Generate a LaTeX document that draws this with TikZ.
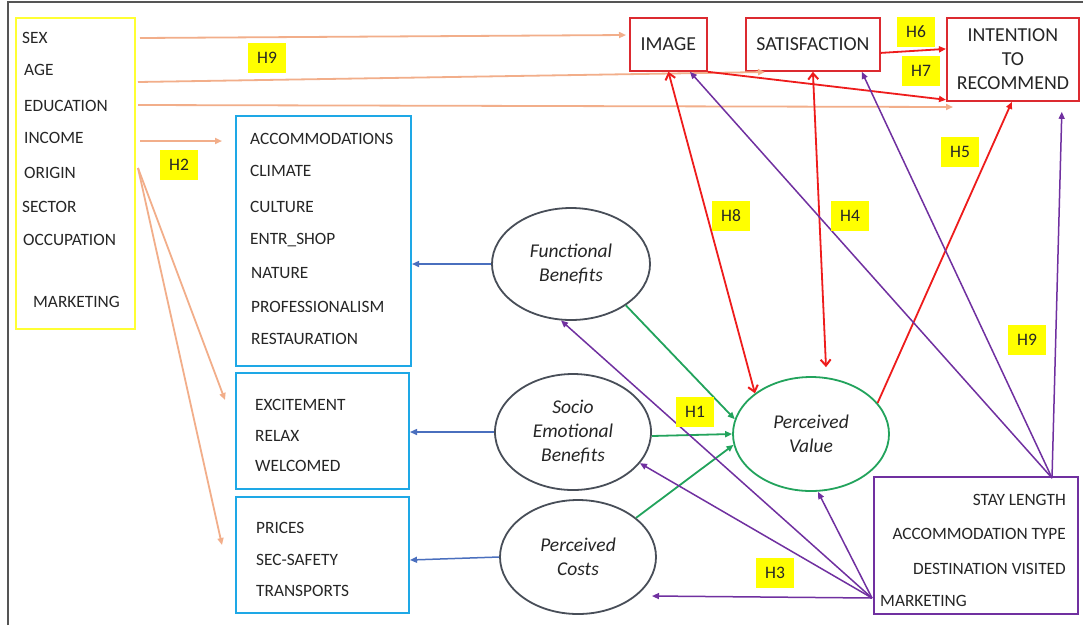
\documentclass[tikz,border=0pt]{standalone}
\usepackage{fontspec}
\setmainfont{Carlito}
\usetikzlibrary{arrows.meta,shapes.geometric}
\definecolor{framegray}{HTML}{555555}
\definecolor{demoyellow}{HTML}{FFFF33}
\definecolor{hlyellow}{HTML}{FFFF00}
\definecolor{boxcyan}{HTML}{1EA8E6}
\definecolor{boxred}{HTML}{DC2A30}
\definecolor{arrred}{HTML}{EE1C1C}
\definecolor{purp}{HTML}{7030A0}
\definecolor{salmon}{HTML}{F2AE8A}
\definecolor{arrblue}{HTML}{4A6FBE}
\definecolor{ellgray}{HTML}{484E58}
\definecolor{grn}{HTML}{22A35C}
\definecolor{txt}{HTML}{262626}
\begin{document}
\begin{tikzpicture}[x=1pt,y=-1pt,
  every node/.style={text=txt},
  lbl/.style={font=\fontsize{17.3}{20}\selectfont, inner sep=0pt, text depth=0pt, anchor=west},
  rlbl/.style={lbl, anchor=east},
  boxr/.style={draw=boxred, line width=1.8pt, inner sep=0pt, anchor=north west, align=center, font=\fontsize{19.8}{24}\selectfont},
  boxc/.style={draw=boxcyan, line width=2pt, inner sep=0pt, anchor=north west},
  ell/.style={ellipse, draw=ellgray, line width=1.8pt, inner sep=0pt, align=center, font=\fontsize{19.5}{24}\selectfont\itshape},
  hyp/.style={fill=hlyellow, inner sep=0pt, minimum width=38pt, minimum height=30pt, font=\fontsize{17.5}{18}\selectfont},
  tipf/.style={-{Triangle[length=7pt,width=6pt]}},
  oarr/.style={draw=salmon, line width=1.8pt, tipf},
  barr/.style={draw=arrblue, line width=1.5pt, tipf},
  garr/.style={draw=grn, line width=1.8pt, tipf},
  rarr/.style={draw=arrred, line width=1.8pt, -{Triangle[length=7pt,width=6pt]}},
  rbi/.style={draw=arrred, line width=1.8pt, {Straight Barb[length=6pt,width=10pt,line width=2pt]}-{Straight Barb[length=6pt,width=10pt,line width=2pt]}},
  parr/.style={draw=purp, line width=1.5pt, tipf}
]
\useasboundingbox (0,0) rectangle (1083,625);
\fill[white] (0,0) rectangle (1083,625);
\draw[framegray, line width=2pt] (8,625) -- (8,2) -- (1083,2);

% demographic box
\node[draw=demoyellow, line width=2pt, inner sep=0pt, anchor=north west, minimum width=119pt, minimum height=311pt] (demo) at (15,17) {};
\node[lbl] (sex) at (22,38) {SEX};
\node[lbl] (age) at (24,70) {AGE};
\node[lbl] (edu) at (24,106) {EDUCATION};
\node[lbl] (inc) at (24,138) {INCOME};
\node[lbl] (ori) at (24,173) {ORIGIN};
\node[lbl] (sec) at (22,207) {SECTOR};
\node[lbl] (occ) at (23,240) {OCCUPATION};
\node[lbl] (mkt) at (33,302) {MARKETING};

% cyan boxes
\node[boxc, minimum width=175pt, minimum height=250pt] (fbx) at (235,115) {};
\node[lbl] (acc) at (250,139) {ACCOMMODATIONS};
\node[lbl] (cli) at (250,171) {CLIMATE};
\node[lbl] (cul) at (250,207) {CULTURE};
\node[lbl] (ent) at (250,239) {ENTR\_SHOP};
\node[lbl] (nat) at (251,273) {NATURE};
\node[lbl] (pro) at (251,307) {PROFESSIONALISM};
\node[lbl] (res) at (251,339) {RESTAURATION};

\node[boxc, minimum width=173pt, minimum height=116pt] (sebx) at (235,372) {};
\node[lbl] (exc) at (255,405) {EXCITEMENT};
\node[lbl] (rel) at (255,436) {RELAX};
\node[lbl] (wel) at (255,466) {WELCOMED};

\node[boxc, minimum width=173pt, minimum height=116pt] (pcx) at (235,496) {};
\node[lbl] (pri) at (256,528) {PRICES};
\node[lbl] (saf) at (256,560) {SEC-SAFETY};
\node[lbl] (tra) at (256,591) {TRANSPORTS};

% red boxes
\node[boxr, minimum width=77pt, minimum height=53pt] (img) at (629,17) {IMAGE};
\node[boxr, minimum width=134pt, minimum height=53pt] (sat) at (745,17) {SATISFACTION};
\node[boxr, minimum width=132pt, minimum height=83pt] (intn) at (946,17) {INTENTION\\TO\\RECOMMEND};

% purple box
\node[draw=purp, line width=2.2pt, inner sep=0pt, anchor=north west, minimum width=204pt, minimum height=137pt] (trip) at (873,476) {};
\node[rlbl] (stay) at (1066,500) {STAY LENGTH};
\node[rlbl] (acct) at (1066,534) {ACCOMMODATION TYPE};
\node[rlbl] (dest) at (1066,569) {DESTINATION VISITED};
\node[lbl] (mkt2) at (880,601) {MARKETING};

% ellipses
\node[ell, minimum width=158pt, minimum height=112pt] (fb) at (571,264) {Functional\\Benefits};
\node[ell, minimum width=156pt, minimum height=116pt] (seb) at (573,432) {Socio\\Emotional\\Benefits};
\node[ell, minimum width=156pt, minimum height=114pt] (pc) at (578,557) {Perceived\\Costs};
\node[ell, draw=grn, minimum width=156pt, minimum height=114pt] (pv) at (811,434) {Perceived\\Value};

% coordinates for free ends
\coordinate (oS) at (140,38);
\coordinate (oA) at (138,82);
\coordinate (oE) at (138,105);
\coordinate (oI) at (140,141);
\coordinate (oO) at (138,168);
\coordinate (eS) at (626,35);
\coordinate (eA) at (765,72);
\coordinate (eE) at (953,107);
\coordinate (eI) at (222,141);
\coordinate (eO1) at (225,400);
\coordinate (eO2) at (222,545);
\coordinate (pTop) at (1052,478);
\coordinate (pMk) at (872,598);
\coordinate (ePC) at (652,596);

% orange arrows
\draw[oarr] (oS) -- (eS);
\draw[oarr] (oA) -- (eA);
\draw[oarr] (oE) -- (eE);
\draw[oarr] (oI) -- (eI);
\draw[oarr] (oO) -- (eO1);
\draw[oarr] (oO) -- (eO2);

% blue arrows
\draw[barr] (fb.west) -- (fb.west -| fbx.east);
\draw[barr] (seb.west) -- (seb.west -| sebx.east);
\draw[barr] (pc.west) -- ([yshift=-3pt]pc.west -| pcx.east);

% green arrows
\draw[garr] (fb.-37) -- (pv.169);
\draw[garr] ([yshift=-4pt]seb.east) -- (pv.west);
\draw[garr] (pc.34) -- (pv.188);

% red arrows
\draw[rbi] (img.south) -- (pv.144);
\draw[rbi] (sat.south) -- ([xshift=15pt,yshift=9pt]pv.north);
\draw[rarr] (pv.25) -- ([xshift=-1pt]intn.south);
\draw[rarr] ([yshift=-8.5pt]sat.east) -- ([yshift=10.5pt]intn.west);
\draw[rarr] (img.south east) -- ([yshift=2pt]intn.south west);

% purple arrows
\draw[parr] (pTop) -- ([xshift=61pt]img.south west);
\draw[parr] (pTop) -- ([xshift=-19pt]sat.south east);
\draw[parr] (pTop) -- ([xshift=-18pt,yshift=-10pt]intn.south east);
\draw[parr] (pMk) -- (fb.-100);
\draw[parr] (pMk) -- (seb.-25);
\draw[parr] (pMk) -- ([xshift=7pt]pv.south);
\draw[parr] (pMk) -- (ePC);

% hypothesis labels
\node[hyp] (h9a) at (267,58) {H9};
\node[hyp] (h2) at (179,165) {H2};
\node[hyp] (h8) at (731,216) {H8};
\node[hyp] (h4) at (850,216) {H4};
\node[hyp] (h5) at (960,152) {H5};
\node[hyp] (h9b) at (1027,340) {H9};
\node[hyp] (h1) at (695,412) {H1};
\node[hyp] (h3) at (775,573) {H3};
\node[hyp] (h6) at (916,32) {H6};
\node[hyp] (h7) at (921,71) {H7};
\end{tikzpicture}
\end{document}
